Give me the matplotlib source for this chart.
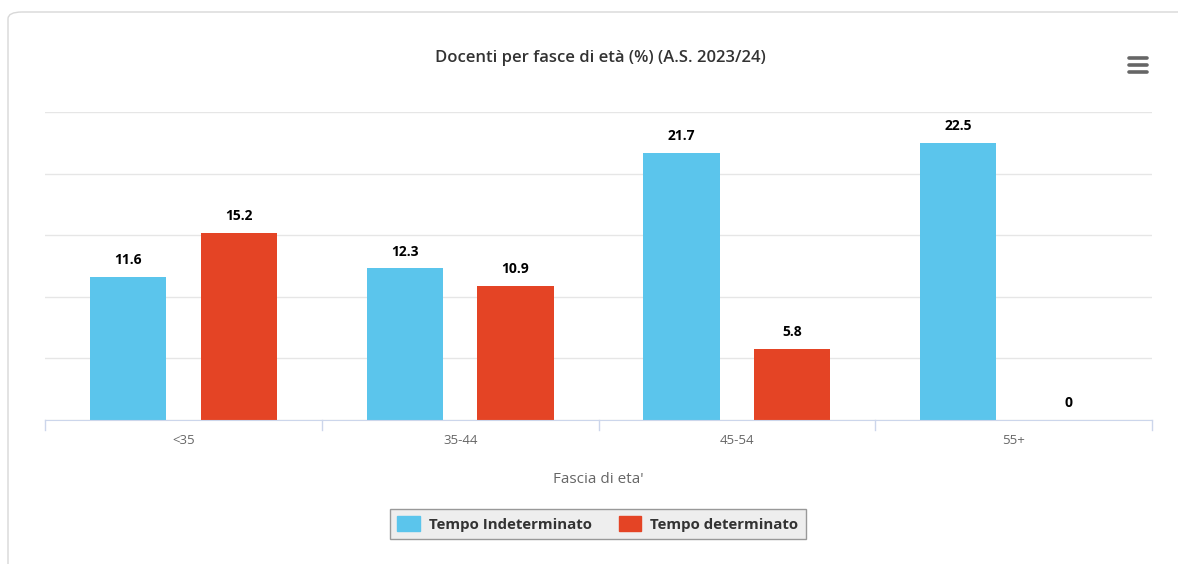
import matplotlib

matplotlib.use("Agg")
import matplotlib.pyplot as plt
import numpy as np
from matplotlib.patches import FancyBboxPatch, Patch
from matplotlib.lines import Line2D

plt.rcParams["font.family"] = ["Open Sans", "DejaVu Sans"]

categories = ["<35", "35-44", "45-54", "55+"]
indeterminato = [11.6, 12.3, 21.7, 22.5]
determinato = [15.2, 10.9, 5.8, 0]
series_names = ["Tempo Indeterminato", "Tempo determinato"]

BLUE = "#5bc5ec"
RED = "#e44425"

W, H = 1178, 564
fig = plt.figure(figsize=(W / 100, H / 100), dpi=100)

# outer card, behind everything
fig.patches.append(
    FancyBboxPatch(
        (8 / W, -0.05), 1.2, (H - 12) / H + 0.05,
        boxstyle="round,pad=0,rounding_size=0.012",
        transform=fig.transFigure, fc="white", ec="#d8d8d8", lw=1.0,
        zorder=-10,
    )
)

ax = fig.add_axes([45 / W, 1 - 420 / H, (1152 - 45) / W, (420 - 112) / H])
ax.patch.set_alpha(0)
x = np.arange(len(categories))
bw = 0.275
off = 0.2
b1 = ax.bar(x - off, indeterminato, bw, color=BLUE, zorder=2)
b2 = ax.bar(x + off, determinato, bw, color=RED, zorder=2)
for bars in (b1, b2):
    for rect in bars:
        h = rect.get_height()
        ax.annotate(
            f"{h:g}", (rect.get_x() + rect.get_width() / 2, h),
            xytext=(0, 7), textcoords="offset points", ha="center", va="bottom",
            fontsize=10, fontweight="bold", color="black",
        )

ax.set_xlim(-0.5, len(categories) - 0.5)
ax.set_ylim(0, 25)
ax.set_yticks(np.arange(0, 26, 5))
ax.set_yticklabels([])
ax.tick_params(axis="y", length=0)
ax.grid(axis="y", color="#e6e6e6", lw=1, zorder=0)
for s in ("top", "right", "left"):
    ax.spines[s].set_visible(False)
ax.spines["bottom"].set_color("#ccd6eb")
ax.set_xticks(x)
ax.set_xticklabels(categories, fontsize=9.5, color="#666666")
ax.tick_params(axis="x", length=0, pad=10)
# category boundary ticks
for b in np.arange(-0.5, len(categories), 1.0):
    ax.plot([b, b], [0, -0.85], color="#ccd6eb", lw=1, clip_on=False)
ax.set_xlabel("Fascia di eta'", fontsize=11, color="#666666", labelpad=18)

fig.text(600 / W, 1 - 58 / H, "Docenti per fasce di età (%) (A.S. 2023/24)",
         ha="center", va="center", fontsize=12, fontweight="semibold",
         color="#333333")

# menu icon
for yy in (58, 65, 72):
    fig.add_artist(Line2D([1129 / W, 1147 / W], [1 - yy / H] * 2,
                          color="#666666", lw=2.6, solid_capstyle="round"))

handles = [Patch(color=BLUE, label=series_names[0]),
           Patch(color=RED, label=series_names[1])]
leg = fig.legend(handles=handles, loc="center", bbox_to_anchor=(598 / W, 1 - 524 / H),
                 ncol=2, frameon=True, fancybox=False,
                 prop={"weight": "bold", "size": 10.8}, handlelength=1.5,
                 handleheight=1.1, columnspacing=1.8, handletextpad=0.6,
                 borderpad=0.5)
leg.get_frame().set_facecolor("#eeeeee")
leg.get_frame().set_edgecolor("#999999")
leg.get_frame().set_linewidth(1)
leg.get_frame().set_alpha(1)
for t in leg.get_texts():
    t.set_color("#333333")

fig.savefig("out.png", dpi=100)
